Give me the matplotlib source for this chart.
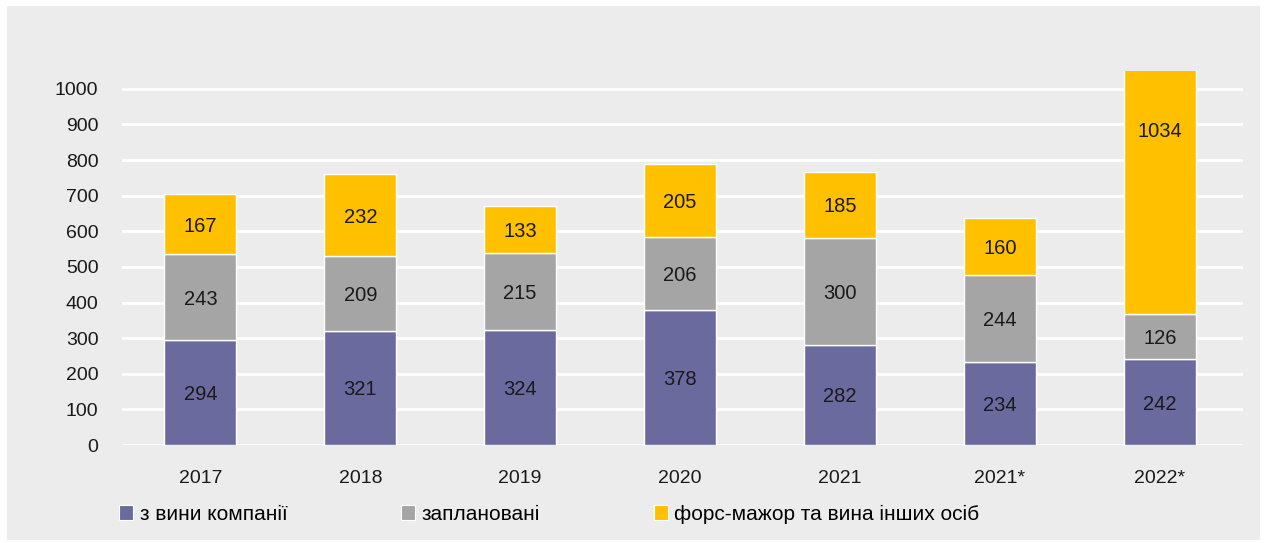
import matplotlib.pyplot as plt
import numpy as np
from matplotlib.patches import Rectangle, Patch

# data
years = ['2017', '2018', '2019', '2020', '2021', '2021*', '2022*']
company = [294, 321, 324, 378, 282, 234, 242]
planned = [243, 209, 215, 206, 300, 244, 126]
force = [167, 232, 133, 205, 185, 160, 1034]
series_names = ['з вини компанії', 'заплановані', 'форс-мажор та вина інших осіб']

colors = ['#6b6a9f', '#a5a5a5', '#ffc000']
bg = '#ececec'

plt.rcParams['font.family'] = ['Liberation Sans', 'DejaVu Sans']

fig = plt.figure(figsize=(12.67, 5.43), dpi=100)
fig.patch.set_facecolor('white')
fig.patches.append(Rectangle((7 / 1267, 3 / 543), 1253 / 1267, 534 / 543,
                             transform=fig.transFigure, facecolor=bg,
                             edgecolor='none', zorder=-5))

ax = fig.add_axes([122 / 1267, 1 - 445 / 543, (1243 - 122) / 1267, (445 - 71) / 543])
ax.set_facecolor(bg)

x = np.arange(len(years))
w = 0.45
bottom = np.zeros(len(years))
for vals, col in zip([company, planned, force], colors):
    vals = np.array(vals)
    ax.bar(x, vals, w, bottom=bottom, color=col, edgecolor='white', linewidth=1, zorder=3)
    for xi, b, v in zip(x, bottom, vals):
        ax.text(xi, b + v / 2 - 6, str(v), ha='center', va='center', fontsize=14.5,
                color='#1a1a1a', zorder=4)
    bottom += vals

ax.set_ylim(0, 1050)
ax.set_xlim(-0.49, 6.52)
ax.set_yticks(range(0, 1001, 100))
ax.set_xticks(x)
ax.set_xticklabels(years)
ax.tick_params(axis='both', length=0, labelsize=14, colors='#1a1a1a')
ax.tick_params(axis='y', pad=17)
ax.tick_params(axis='x', pad=18)
ax.grid(axis='y', color='white', linewidth=2, zorder=1)
for s in ax.spines.values():
    s.set_visible(False)

handles = [Patch(facecolor=c, edgecolor='white', linewidth=0.8) for c in colors]
fig.legend(handles, series_names, loc='center left', ncol=3,
           bbox_to_anchor=(100 / 1267, 1 - 514 / 543), frameon=False,
           fontsize=15, handlelength=0.7, handleheight=0.7, handletextpad=0.3,
           columnspacing=5.45)

fig.savefig('out.png', dpi=100, facecolor=fig.get_facecolor())
